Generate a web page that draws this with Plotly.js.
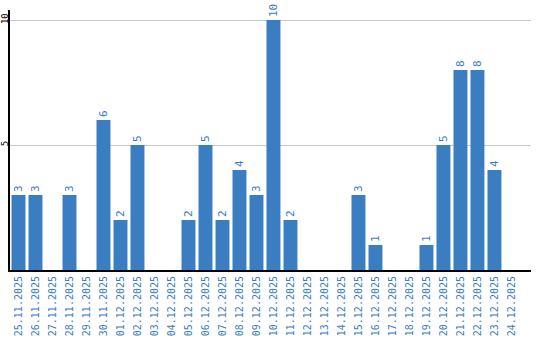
<!DOCTYPE html>
<html>
<head>
<meta charset="utf-8">
<script src="https://cdn.plot.ly/plotly-3.0.1.min.js"></script>
<style>html,body{margin:0;padding:0;background:#fff;}#chart{width:540px;height:340px;}</style>
</head>
<body>
<div id="chart"></div>
<script>
const dates = ["25.11.2025","26.11.2025","27.11.2025","28.11.2025","29.11.2025","30.11.2025",
  "01.12.2025","02.12.2025","03.12.2025","04.12.2025","05.12.2025","06.12.2025","07.12.2025",
  "08.12.2025","09.12.2025","10.12.2025","11.12.2025","12.12.2025","13.12.2025","14.12.2025",
  "15.12.2025","16.12.2025","17.12.2025","18.12.2025","19.12.2025","20.12.2025","21.12.2025",
  "22.12.2025","23.12.2025","24.12.2025"];
const counts = [3,3,0,3,0,6,2,5,0,0,2,5,2,4,3,10,2,0,0,0,3,1,0,0,1,5,8,8,4,0];
const yTicks = [5,10];

const blue = "#3a7dc1";
const labels = counts.map(v => v > 0 ? String(v) : "");

Plotly.newPlot("chart", [{
  type: "bar",
  x: dates,
  y: counts,
  text: labels,
  textposition: "outside",
  textangle: -90,
  cliponaxis: false,
  textfont: {family: "DejaVu Sans Mono", size: 11, color: blue},
  marker: {color: blue, line: {width: 0}},
  hoverinfo: "none"
}], {
  width: 540, height: 340,
  margin: {l: 10, r: 9, t: 10, b: 70, pad: 0},
  paper_bgcolor: "#fff", plot_bgcolor: "#fff",
  showlegend: false,
  bargap: 0.18,
  xaxis: {
    type: "category",
    range: [-0.5, 30.15],
    tickangle: -90,
    tickfont: {family: "DejaVu Sans Mono", size: 10, color: blue},
    showgrid: false,
    showline: true, linecolor: "#000", linewidth: 2,
    ticks: "", ticklen: 0,
    zeroline: false,
    fixedrange: true
  },
  yaxis: {
    range: [0, 10.4],
    tickvals: yTicks,
    ticktext: yTicks.map(String),
    tickangle: -90,
    ticklabelstandoff: -4,
    tickfont: {family: "DejaVu Sans Mono", size: 9, color: "#000"},
    showgrid: true, gridcolor: "#c8c8c8", gridwidth: 1,
    showline: true, linecolor: "#000", linewidth: 2,
    ticks: "", ticklen: 0,
    zeroline: false,
    fixedrange: true
  }
}, {displayModeBar: false, staticPlot: true});
</script>
</body>
</html>
